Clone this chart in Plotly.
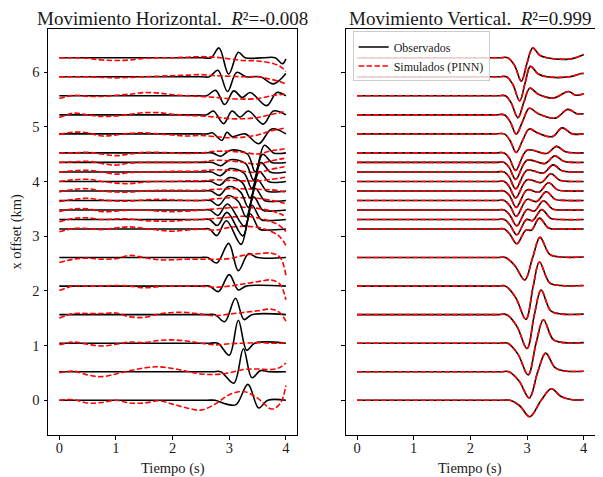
import plotly.graph_objects as go

# ---------------- data ----------------
OFFSETS = [0.0, 0.522, 1.044, 1.566, 2.088, 2.61, 3.132, 3.306, 3.48, 3.654,
           3.828, 4.002, 4.176, 4.35, 4.524, 4.872, 5.22, 5.568, 5.916, 6.264]

X_TICKS = [0, 1, 2, 3, 4]
Y_TICKS = [0, 1, 2, 3, 4, 5, 6]

TITLE_H = "Movimiento Horizontal.  <i>R</i>²=-0.008"
TITLE_V = "Movimiento Vertical.  <i>R</i>²=0.999"
X_LABEL = "Tiempo (s)"
Y_LABEL = "x offset (km)"

# Horizontal observed (key points: time, amplitude in km)
H_OBS_T = [
    [0, 2.6, 2.75, 2.95, 3.12, 3.33, 3.52, 3.68, 4.0],
    [0, 2.7, 2.85, 3.08, 3.25, 3.40, 3.55, 3.7, 4.0],
    [0, 2.65, 2.8, 3.0, 3.16, 3.31, 3.45, 4.0],
    [0, 2.6, 2.75, 2.92, 3.11, 3.26, 3.4, 4.0],
    [0, 2.5, 2.65, 2.81, 3.00, 3.16, 3.3, 4.0],
    [0, 2.47, 2.62, 2.78, 2.99, 3.16, 3.34, 3.5, 4.0],
    [0, 2.5, 2.65, 2.78, 2.95, 3.21, 3.37, 3.53, 3.65, 4.0],
    [0, 2.5, 2.65, 2.79, 2.96, 3.24, 3.40, 3.56, 3.68, 4.0],
    [0, 2.51, 2.66, 2.80, 2.97, 3.27, 3.43, 3.59, 3.71, 4.0],
    [0, 2.52, 2.67, 2.81, 2.98, 3.16, 3.30, 3.46, 3.62, 3.74, 4.0],
    [0, 2.53, 2.68, 2.82, 2.99, 3.20, 3.34, 3.50, 3.66, 3.78, 4.0],
    [0, 2.53, 2.68, 2.83, 3.00, 3.23, 3.37, 3.53, 3.69, 3.81, 4.0],
    [0, 2.54, 2.69, 2.84, 3.01, 3.26, 3.40, 3.56, 3.72, 3.84, 4.0],
    [0, 2.55, 2.70, 2.85, 3.02, 3.29, 3.43, 3.59, 3.75, 3.87, 4.0],
    [0, 2.55, 2.70, 2.85, 3.02, 3.32, 3.46, 3.62, 3.78, 3.90, 4.0],
    [0, 2.47, 2.62, 2.70, 2.87, 2.96, 3.05, 3.28, 3.52, 3.75, 4.0],
    [0, 2.45, 2.6, 2.72, 2.90, 3.05, 3.19, 3.34, 3.60, 3.78, 4.0],
    [0, 2.45, 2.6, 2.76, 2.92, 3.08, 3.23, 3.37, 3.66, 3.84, 4.0],
    [0, 2.5, 2.65, 2.80, 2.97, 3.13, 3.3, 3.55, 3.78, 4.0],
    [0, 2.53, 2.68, 2.82, 2.99, 3.16, 3.28, 3.6, 3.81, 3.94, 4.0],
]
H_OBS_A = [
    [0, 0, 0, -0.07, -0.08, 0.29, -0.14, 0.0, 0],
    [0, 0, 0, -0.21, 0.42, -0.11, 0.02, 0, 0],
    [0, 0, 0, -0.22, 0.42, -0.13, 0, 0],
    [0, 0, 0, -0.13, 0.30, -0.09, 0, 0],
    [0, 0, 0, -0.10, 0.21, -0.07, 0, 0],
    [0, 0, 0, -0.10, 0.26, -0.24, 0.07, 0, 0],
    [0, 0, 0, -0.12, 0.15, -0.28, 0.28, 0, -0.02, 0],
    [0, 0, 0, -0.11, 0.13, -0.30, 0.26, 0, -0.02, 0],
    [0, 0, 0, -0.10, 0.11, -0.30, 0.24, 0, -0.02, 0],
    [0, 0, 0, -0.09, 0.09, -0.02, -0.30, 0.22, 0, -0.02, 0],
    [0, 0, 0, -0.08, 0.08, -0.02, -0.30, 0.20, 0, -0.02, 0],
    [0, 0, 0, -0.07, 0.07, -0.02, -0.30, 0.18, 0, -0.02, 0],
    [0, 0, 0, -0.07, 0.06, -0.02, -0.30, 0.17, 0, -0.02, 0],
    [0, 0, 0, -0.06, 0.05, -0.02, -0.32, 0.15, 0, -0.01, 0],
    [0, 0, 0, -0.06, 0.05, -0.02, -0.35, 0.14, 0, -0.01, 0],
    [0, 0, 0, 0.02, -0.12, 0.03, -0.05, 0.0, -0.18, 0.09, 0],
    [0, 0, 0, 0.07, -0.16, 0.07, -0.04, 0.07, -0.17, 0.07, 0],
    [0, 0, 0, 0.10, -0.16, 0.09, -0.03, 0.06, -0.18, 0.06, 0],
    [0, 0, 0, 0.12, -0.27, 0.08, 0, 0, -0.13, 0.06],
    [0, 0, 0, 0.18, -0.30, 0.10, 0, 0, 0, -0.11, -0.02],
]

# Horizontal simulated (PINN) on a common time grid
H_SIM_T = [0, 0.25, 0.5, 0.75, 1.0, 1.25, 1.5, 1.75, 2.0, 2.25, 2.5, 2.75,
           3.0, 3.25, 3.5, 3.75, 3.9, 4.0]
H_SIM_A = [
    [0, 0.01, -0.05, -0.04, 0, -0.05, -0.05, -0.01, -0.07, -0.14, -0.18, -0.07, 0.10, 0.16, 0.04, -0.16, -0.06, 0.27],
    [-0.02, 0.01, -0.06, -0.09, -0.04, 0.02, 0.07, 0.09, 0.06, 0.01, -0.04, -0.05, -0.02, 0.04, 0.05, 0.04, 0.08, 0.16],
    [-0.03, 0.02, -0.02, -0.05, -0.02, 0.02, 0.01, 0.05, 0.06, 0.04, 0.0, -0.03, -0.01, 0.0, 0.01, 0.0, 0.0, 0.01],
    [-0.06, 0.02, 0.02, 0.02, 0.03, -0.04, -0.05, 0.01, 0.04, 0.04, 0.01, -0.02, 0.01, 0.04, 0.07, 0.10, 0.03, -0.12],
    [-0.08, 0, 0, 0, 0.01, 0, -0.03, -0.01, 0, 0, 0, -0.02, 0, 0.04, 0.08, 0.11, 0.03, -0.25],
    [-0.09, -0.03, -0.01, -0.03, -0.02, 0.04, 0.0, -0.04, -0.04, -0.03, -0.03, -0.03, -0.02, 0.04, 0.07, 0.08, 0.0, -0.32],
    [-0.05, 0.01, 0.01, -0.01, 0.02, 0.04, 0.01, -0.02, -0.04, -0.02, 0, -0.02, 0.03, 0.05, 0.03, -0.05, -0.15, -0.30],
    [-0.04, 0.02, 0.03, 0, 0.01, 0.01, -0.02, -0.03, -0.03, -0.01, 0, 0.02, 0.04, 0.06, 0.03, -0.04, -0.12, -0.22],
    [-0.03, 0.02, 0.02, -0.03, -0.02, 0, 0, -0.02, -0.03, -0.02, 0, 0.02, 0.04, 0.05, 0.03, -0.02, -0.07, -0.12],
    [-0.02, 0.02, 0.04, 0.01, -0.01, -0.01, 0.01, 0.02, 0.01, 0, 0, 0.03, 0.05, 0.05, 0.04, 0, -0.03, -0.06],
    [-0.02, 0.03, 0.04, 0, -0.02, -0.02, 0, 0.01, 0.01, 0.01, 0.01, 0.03, 0.04, 0.04, 0.03, 0.02, 0, -0.02],
    [0, 0.03, 0.04, 0, -0.03, -0.04, -0.01, 0, 0, 0.01, 0.01, 0.03, 0.02, 0.01, 0.01, 0.04, 0.06, 0.08],
    [0, 0.02, 0.03, 0, -0.04, -0.01, 0, 0, 0.01, 0.01, 0.02, 0.04, 0.03, 0.01, -0.01, 0.05, 0.08, 0.10],
    [0, 0.01, 0.02, -0.02, -0.05, -0.01, 0, 0, 0, 0, 0.01, 0.04, 0.03, 0, -0.03, 0.03, 0.06, 0.08],
    [0, 0, 0.01, -0.02, -0.05, -0.02, 0.01, 0.01, 0, -0.01, 0, 0.03, 0.03, 0.01, -0.02, 0.04, 0.06, 0.08],
    [-0.01, 0.03, 0.02, -0.04, -0.02, 0.01, 0.02, 0.0, -0.02, -0.04, -0.03, -0.05, -0.07, -0.06, -0.02, 0.06, 0.09, 0.11],
    [-0.05, 0.03, 0.0, -0.03, -0.02, 0.01, 0.04, 0.04, 0.01, -0.01, -0.02, -0.04, -0.07, -0.07, -0.05, 0.01, 0.04, 0.07],
    [-0.05, 0.01, -0.01, -0.01, 0.01, 0.03, 0.06, 0.05, 0.02, 0, -0.01, -0.03, -0.05, -0.06, -0.05, 0, 0.02, 0.03],
    [0, 0, 0, -0.01, -0.02, -0.01, 0, 0.01, 0.02, 0.03, 0.04, 0.02, 0.01, 0, 0, -0.05, -0.09, -0.13],
    [0, 0, -0.01, -0.04, -0.05, -0.04, -0.01, 0, 0, 0.01, 0.02, 0.01, -0.02, -0.05, -0.06, -0.10, -0.16, -0.25],
]

# Vertical observed (key points)
V_OBS_T = [
    [0, 2.55, 2.7, 2.87, 3.05, 3.25, 3.43, 3.6, 3.8, 4.0],
    [0, 2.53, 2.68, 2.86, 3.04, 3.19, 3.33, 3.5, 3.7, 4.0],
    [0, 2.51, 2.66, 2.84, 3.02, 3.16, 3.29, 3.46, 3.65, 4.0],
    [0, 2.49, 2.64, 2.82, 3.00, 3.13, 3.25, 3.42, 3.62, 4.0],
    [0, 2.47, 2.62, 2.80, 2.98, 3.11, 3.22, 3.40, 3.6, 4.0],
    [0, 2.47, 2.62, 2.78, 2.96, 3.10, 3.23, 3.40, 3.6, 4.0],
    [0, 2.45, 2.6, 2.70, 2.82, 2.98, 3.08, 3.22, 3.38, 3.6, 4.0],
    [0, 2.45, 2.6, 2.70, 2.82, 2.99, 3.10, 3.26, 3.42, 3.6, 4.0],
    [0, 2.45, 2.6, 2.70, 2.82, 3.00, 3.13, 3.29, 3.45, 3.65, 4.0],
    [0, 2.45, 2.6, 2.70, 2.81, 3.00, 3.17, 3.34, 3.50, 3.70, 4.0],
    [0, 2.45, 2.6, 2.70, 2.81, 3.00, 3.21, 3.38, 3.54, 3.72, 4.0],
    [0, 2.45, 2.6, 2.69, 2.80, 3.00, 3.25, 3.42, 3.58, 3.76, 4.0],
    [0, 2.45, 2.6, 2.69, 2.80, 3.00, 3.29, 3.46, 3.62, 3.80, 4.0],
    [0, 2.45, 2.6, 2.69, 2.80, 3.00, 3.32, 3.49, 3.65, 3.82, 4.0],
    [0, 2.45, 2.6, 2.69, 2.80, 3.00, 3.35, 3.52, 3.68, 3.85, 4.0],
    [0, 2.45, 2.6, 2.70, 2.81, 2.93, 3.04, 3.2, 3.45, 3.62, 3.8, 4.0],
    [0, 2.45, 2.6, 2.70, 2.81, 2.93, 3.04, 3.2, 3.5, 3.72, 3.88, 4.0],
    [0, 2.47, 2.62, 2.72, 2.84, 2.95, 3.05, 3.2, 3.47, 3.73, 3.86, 4.0],
    [0, 2.49, 2.64, 2.75, 2.87, 2.97, 3.06, 3.2, 3.35, 3.75, 3.96, 4.0],
    [0, 2.51, 2.66, 2.78, 2.90, 3.0, 3.10, 3.22, 3.35, 3.77, 4.0],
]
V_OBS_A = [
    [0, 0, 0, -0.10, -0.30, 0.0, 0.21, 0.07, 0.01, 0.01],
    [0, 0, 0, -0.17, -0.48, 0.0, 0.34, 0.07, 0.01, 0.01],
    [0, 0, 0, -0.20, -0.58, 0.0, 0.43, 0.07, 0.01, 0.01],
    [0, 0, 0, -0.21, -0.62, 0.0, 0.45, 0.07, 0.01, 0.01],
    [0, 0, 0, -0.21, -0.61, 0.0, 0.44, 0.06, 0.01, 0.01],
    [0, 0, 0, -0.14, -0.41, 0.0, 0.37, 0.06, 0.01, 0.01],
    [0, 0, 0, -0.10, -0.27, -0.02, -0.02, 0.20, 0.02, 0.0, 0.0],
    [0, 0, 0, -0.10, -0.28, 0.0, -0.02, 0.18, 0.02, 0.0, 0.0],
    [0, 0, 0, -0.10, -0.29, 0.01, -0.02, 0.17, 0.02, 0.0, 0.0],
    [0, 0, 0, -0.10, -0.29, 0.02, -0.02, 0.16, 0.02, 0.0, 0.0],
    [0, 0, 0, -0.10, -0.30, 0.02, -0.02, 0.15, 0.02, 0.0, 0.0],
    [0, 0, 0, -0.10, -0.30, 0.03, -0.02, 0.14, 0.02, 0.0, 0.0],
    [0, 0, 0, -0.10, -0.31, 0.03, -0.02, 0.13, 0.02, 0.0, 0.0],
    [0, 0, 0, -0.10, -0.31, 0.04, -0.02, 0.12, 0.02, 0.0, 0.0],
    [0, 0, 0, -0.10, -0.32, 0.05, -0.01, 0.12, 0.02, 0.0, 0.0],
    [0, 0, 0, -0.12, -0.34, -0.10, 0.09, 0.01, -0.05, 0.11, 0.0, 0.0],
    [0, 0, 0, -0.12, -0.35, -0.10, 0.12, 0.02, -0.06, 0.10, 0.02, 0.02],
    [0, 0, 0, -0.13, -0.40, -0.10, 0.14, 0.03, -0.04, 0.08, 0.01, 0.04],
    [0, 0, 0, -0.14, -0.44, -0.10, 0.19, 0.05, 0.0, 0.0, 0.06, 0.06],
    [0, 0, 0, -0.14, -0.43, -0.10, 0.18, 0.05, 0.0, -0.02, 0.06],
]
# Vertical simulated (PINN) -- indistinguishable from observed (R2 = 0.999)
V_SIM_T = V_OBS_T
V_SIM_A = V_OBS_A

# ---------------- figure ----------------
FONT = "Liberation Serif"
BLACK = "#000000"
RED = "#ff0000"
TXT = "#1a1a1a"

fig = go.Figure()


def add_pair(t_obs, a_obs, t_sim, a_sim, off, xa, ya, legend):
    fig.add_trace(go.Scatter(
        x=t_obs, y=[off + a for a in a_obs], mode="lines",
        line=dict(color=BLACK, width=1.6, shape="spline", smoothing=1.0),
        xaxis=xa, yaxis=ya, name="Observados",
        showlegend=legend, hoverinfo="skip"))
    fig.add_trace(go.Scatter(
        x=t_sim, y=[off + a for a in a_sim], mode="lines",
        line=dict(color=RED, width=1.6, dash="5.5px,2.4px", shape="spline", smoothing=1.0),
        xaxis=xa, yaxis=ya, name="Simulados (PINN)",
        showlegend=legend, hoverinfo="skip"))


for i, off in enumerate(OFFSETS):
    add_pair(H_OBS_T[i], H_OBS_A[i], H_SIM_T, H_SIM_A[i], off, "x", "y", False)
for i, off in enumerate(OFFSETS):
    add_pair(V_OBS_T[i], V_OBS_A[i], V_SIM_T[i], V_SIM_A[i], off, "x2", "y2", i == 0)

axis_common = dict(
    showline=True, linecolor=BLACK, linewidth=1, mirror=True,
    ticks="outside", ticklen=3.5, tickwidth=0.8, tickcolor=BLACK,
    showgrid=False, zeroline=False, automargin=False,
    tickfont=dict(family=FONT, size=14.5, color=TXT),
)
YR = [-0.635, 6.79]
XR = [-0.2, 4.2]

XD1 = [0, 0.4556]
XD2 = [0.5442, 1.0]

# The page body has an 8px margin, so the figure is 8px smaller on each
# leading side to fit the 603x477 window.
fig.update_layout(
    width=595, height=469,
    margin=dict(l=40, r=8, t=21, b=42, autoexpand=False),
    paper_bgcolor="white", plot_bgcolor="white",
    font=dict(family=FONT, color=TXT),
    xaxis=dict(domain=XD1, range=XR, tickvals=X_TICKS, anchor="y",
               ticklabelstandoff=-4, **axis_common),
    xaxis2=dict(domain=XD2, range=XR, tickvals=X_TICKS, anchor="y2",
                ticklabelstandoff=-4, **axis_common),
    yaxis=dict(domain=[0, 1], range=YR, tickvals=Y_TICKS, anchor="x",
               ticklabelstandoff=1, **axis_common),
    yaxis2=dict(domain=[0, 1], range=YR, tickvals=Y_TICKS, anchor="x2",
                showticklabels=False, **axis_common),
    legend=dict(x=0.557, y=0.994, xanchor="left", yanchor="top",
                bgcolor="rgba(255,255,255,0.8)", bordercolor="#cccccc", borderwidth=1,
                font=dict(family=FONT, size=12, color=TXT),
                itemwidth=30, tracegroupgap=0),
    showlegend=True,
    annotations=[
        dict(text=TITLE_H, xref="paper", yref="paper", x=sum(XD1) / 2, y=1.0, yshift=-2,
             xanchor="center", yanchor="bottom", showarrow=False,
             font=dict(family=FONT, size=19, color=TXT)),
        dict(text=TITLE_V, xref="paper", yref="paper", x=sum(XD2) / 2, y=1.0, yshift=-2,
             xanchor="center", yanchor="bottom", showarrow=False,
             font=dict(family=FONT, size=19, color=TXT)),
        dict(text=X_LABEL, xref="paper", yref="paper", x=sum(XD1) / 2, y=0, yshift=-23,
             xanchor="center", yanchor="top", showarrow=False,
             font=dict(family=FONT, size=14.5, color=TXT)),
        dict(text=X_LABEL, xref="paper", yref="paper", x=sum(XD2) / 2, y=0, yshift=-23,
             xanchor="center", yanchor="top", showarrow=False,
             font=dict(family=FONT, size=14.5, color=TXT)),
        dict(text=Y_LABEL, xref="paper", yref="paper", x=0, xshift=-22, y=0.5,
             xanchor="right", yanchor="middle", textangle=-90, showarrow=False,
             font=dict(family=FONT, size=14.5, color=TXT)),
    ],
)

fig.write_html("out.html")
